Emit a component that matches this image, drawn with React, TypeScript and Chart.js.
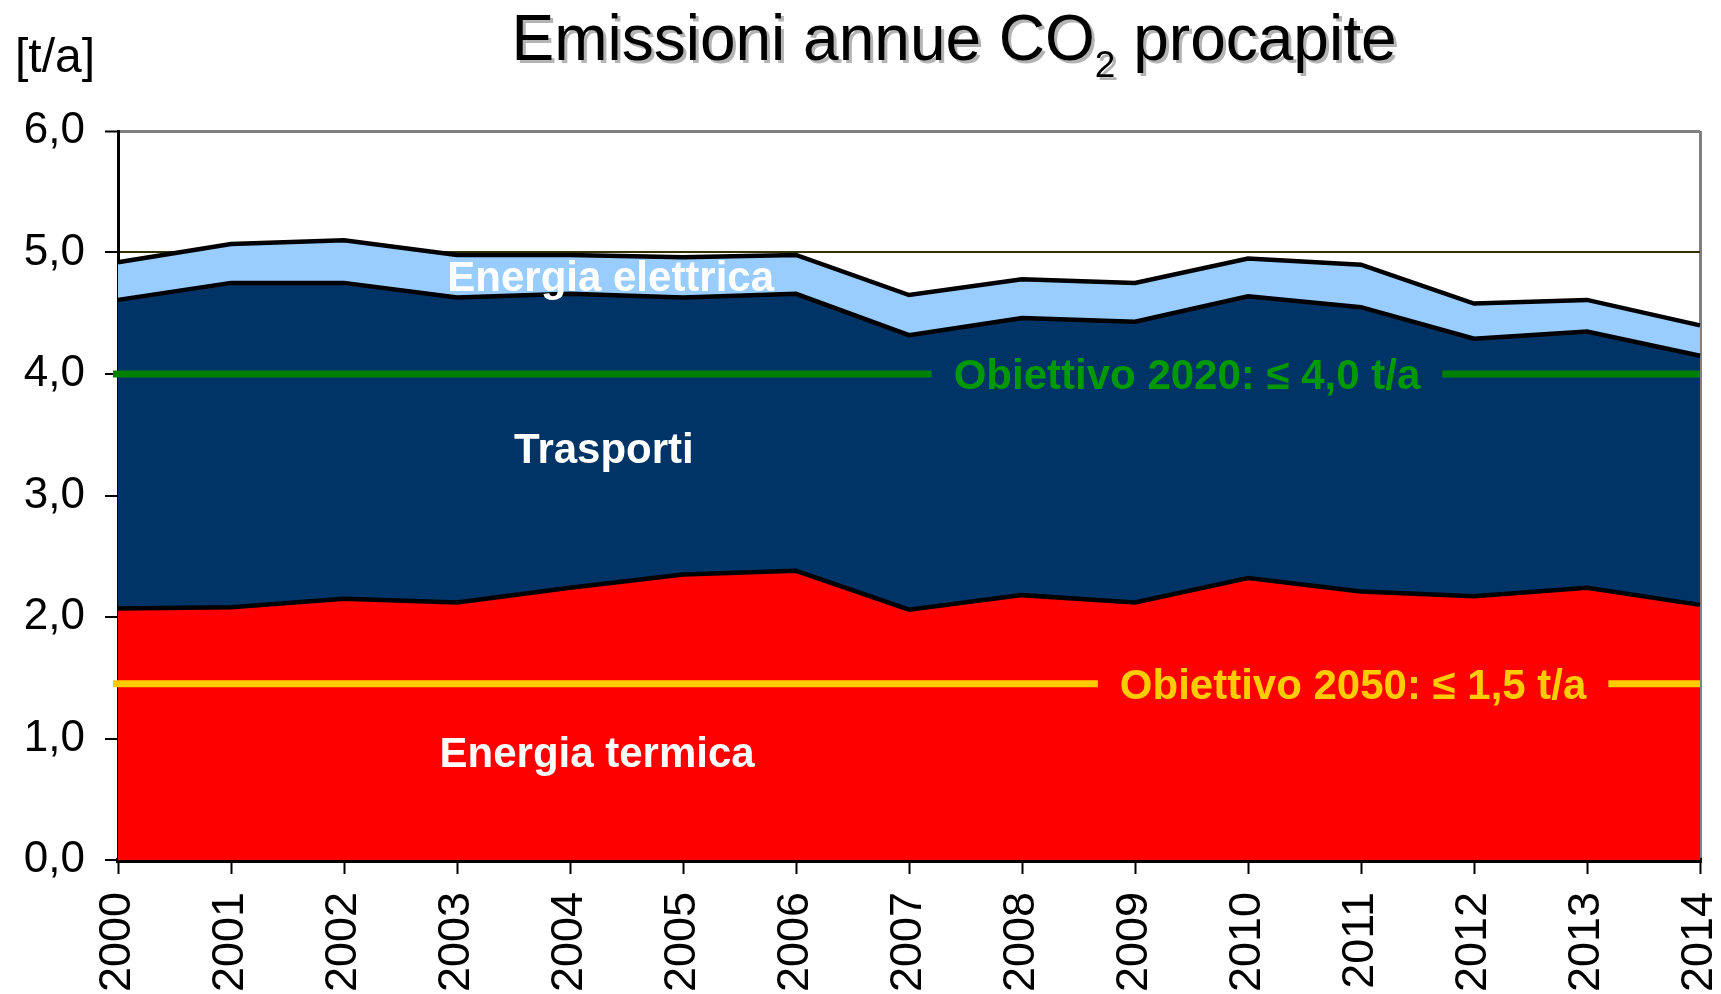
import React, { useEffect, useRef } from 'react';
import { Chart, registerables } from 'chart.js';

Chart.register(...registerables);

// ---- data ----
const years = ['2000', '2001', '2002', '2003', '2004', '2005', '2006', '2007', '2008', '2009', '2010', '2011', '2012', '2013', '2014'];
const energiaTermica = [2.07, 2.08, 2.15, 2.12, 2.24, 2.35, 2.38, 2.06, 2.18, 2.12, 2.32, 2.21, 2.17, 2.24, 2.10];
const trasporti = [2.54, 2.67, 2.60, 2.51, 2.42, 2.28, 2.28, 2.26, 2.28, 2.31, 2.32, 2.34, 2.12, 2.11, 2.05];
const energiaElettrica = [0.31, 0.32, 0.35, 0.35, 0.32, 0.33, 0.32, 0.33, 0.32, 0.32, 0.31, 0.35, 0.29, 0.26, 0.25];
const seriesNames = ['Energia termica', 'Trasporti', 'Energia elettrica'];
const targetValues = [4.0, 1.45];
const targetLabels = ['Obiettivo 2020: \u2264 4,0 t/a', 'Obiettivo 2050: \u2264 1,5 t/a'];
const yMin = 0;
const yMax = 6;
const yStep = 1;

// ---- styles / positions ----
const FONT = "'Liberation Sans', Arial, Helvetica, sans-serif";
const seriesColors = ['#FF0000', '#003366', '#99CCFF'];
const targetLineColors = ['#008000', '#FFCC00'];
const targetTextColors = ['#009900', '#FFCC00'];
const targetLabelIndex = [9.46, 10.93];
const areaLabelPos = [
  { i: 4.24, v: 0.89 },
  { i: 4.30, v: 3.39 },
  { i: 4.36, v: 4.81 },
];

const annotationPlugin = {
  id: 'annotations',
  afterDatasetsDraw(chart: any) {
    const { ctx, chartArea, scales } = chart;
    const xs = scales.x;
    const ys = scales.y;
    ctx.save();
    // area labels
    ctx.font = `bold 42px ${FONT}`;
    ctx.fillStyle = '#FFFFFF';
    ctx.textAlign = 'center';
    ctx.textBaseline = 'alphabetic';
    areaLabelPos.forEach((p, k) => {
      const x = xs.getPixelForValue(p.i);
      const y = ys.getPixelForValue(p.v);
      ctx.fillText(seriesNames[k], x, y + 15);
    });
    // target lines
    targetValues.forEach((v, k) => {
      const y = ys.getPixelForValue(v);
      const cx = xs.getPixelForValue(targetLabelIndex[k]);
      ctx.font = `bold 42px ${FONT}`;
      const w = ctx.measureText(targetLabels[k]).width;
      const gap = 22;
      ctx.strokeStyle = targetLineColors[k];
      ctx.lineWidth = 7;
      ctx.lineCap = 'butt';
      ctx.beginPath();
      ctx.moveTo(chartArea.left - 5, y);
      ctx.lineTo(cx - w / 2 - gap, y);
      ctx.moveTo(cx + w / 2 + gap, y);
      ctx.lineTo(chartArea.right, y);
      ctx.stroke();
      ctx.fillStyle = targetTextColors[k];
      ctx.textAlign = 'center';
      ctx.fillText(targetLabels[k], cx, y + 15);
    });
    ctx.restore();
  },
  afterDraw(chart: any) {
    const { ctx } = chart;
    ctx.save();
    // title
    const big = `64px ${FONT}`;
    const small = `37px ${FONT}`;
    const p1 = 'Emissioni annue CO';
    const p2 = '2';
    const p3 = ' procapite';
    ctx.font = big;
    const w1 = ctx.measureText(p1).width;
    const w3 = ctx.measureText(p3).width;
    ctx.font = small;
    const w2 = ctx.measureText(p2).width;
    const total = w1 + w2 + w3;
    const cx = 954;
    const baseY = 60;
    const x0 = cx - total / 2;
    ctx.textAlign = 'left';
    ctx.textBaseline = 'alphabetic';
    const drawTitle = (dx: number, dy: number, color: string) => {
      ctx.fillStyle = color;
      ctx.font = big;
      ctx.fillText(p1, x0 + dx, baseY + dy);
      ctx.font = small;
      ctx.fillText(p2, x0 + w1 + dx, baseY + 17 + dy);
      ctx.font = big;
      ctx.fillText(p3, x0 + w1 + w2 + dx, baseY + dy);
    };
    drawTitle(3, 3, '#B4B4B4');
    drawTitle(0, 0, '#000000');
    // unit label
    ctx.font = `48px ${FONT}`;
    ctx.fillStyle = '#000000';
    ctx.fillText('[t/a]', 15, 72);
    ctx.restore();
  },
};

export default function App() {
  const canvasRef = useRef<HTMLCanvasElement | null>(null);

  useEffect(() => {
    document.body.style.margin = '0';
    const canvas = canvasRef.current;
    if (!canvas) return;
    const mk = (k: number, data: number[]) => ({
      label: seriesNames[k],
      data,
      backgroundColor: seriesColors[k],
      borderColor: '#000000',
      borderWidth: 4.5,
      borderJoinStyle: 'miter',
      pointRadius: 0,
      pointHoverRadius: 0,
      tension: 0,
      fill: k === 0 ? 'origin' : '-1',
    });
    const chart = new Chart(canvas, {
      type: 'line',
      data: {
        labels: years,
        datasets: [mk(0, energiaTermica), mk(1, trasporti), mk(2, energiaElettrica)] as any,
      },
      options: {
        responsive: false,
        animation: false,
        maintainAspectRatio: false,
        layout: { padding: { top: 131, right: 21, left: 0, bottom: 0 } },
        plugins: {
          legend: { display: false },
          title: { display: false },
          tooltip: { enabled: false },
        },
        scales: {
          x: {
            type: 'category',
            offset: false,
            afterFit: (s: any) => {
              s.height = 134;
              s.paddingLeft = 0;
              s.paddingRight = 0;
              s.paddingTop = 0;
              s.paddingBottom = 0;
            },
            grid: {
              drawOnChartArea: true,
              color: (c: any) => (c.index === years.length - 1 ? '#808080' : 'rgba(0,0,0,0)'),
              lineWidth: 3,
              tickColor: '#000000',
              tickLength: 14,
              tickWidth: 2,
            },
            border: { color: '#000000', width: 5 },
            ticks: {
              autoSkip: false,
              maxRotation: 90,
              minRotation: 90,
              padding: 18,
              color: '#000000',
              font: { family: FONT, size: 45 },
            },
          },
          y: {
            stacked: true,
            min: yMin,
            max: yMax,
            afterFit: (s: any) => {
              s.width = 118;
              s.paddingTop = 0;
              s.paddingBottom = 0;
            },
            grid: {
              color: (c: any) => {
                const v = c.tick ? c.tick.value : null;
                if (v === 6) return '#808080';
                if (v === 5) return '#333300';
                return 'rgba(0,0,0,0)';
              },
              lineWidth: (c: any) => (c.tick && c.tick.value === 6 ? 3 : 2),
              tickColor: '#000000',
              tickLength: 13,
              tickWidth: 2,
            },
            border: { color: '#000000', width: 3 },
            ticks: {
              stepSize: yStep,
              padding: 20,
              color: '#000000',
              font: { family: FONT, size: 44 },
              callback: (v: any) => Number(v).toFixed(1).replace('.', ','),
            },
          },
        },
      } as any,
      plugins: [annotationPlugin],
    });
    return () => chart.destroy();
  }, []);

  return (
    <div style={{ position: 'absolute', left: 0, top: 0, width: 1721, height: 994 }}>
      <canvas ref={canvasRef} width={1721} height={994} style={{ width: 1721, height: 994, display: 'block' }} />
    </div>
  );
}
